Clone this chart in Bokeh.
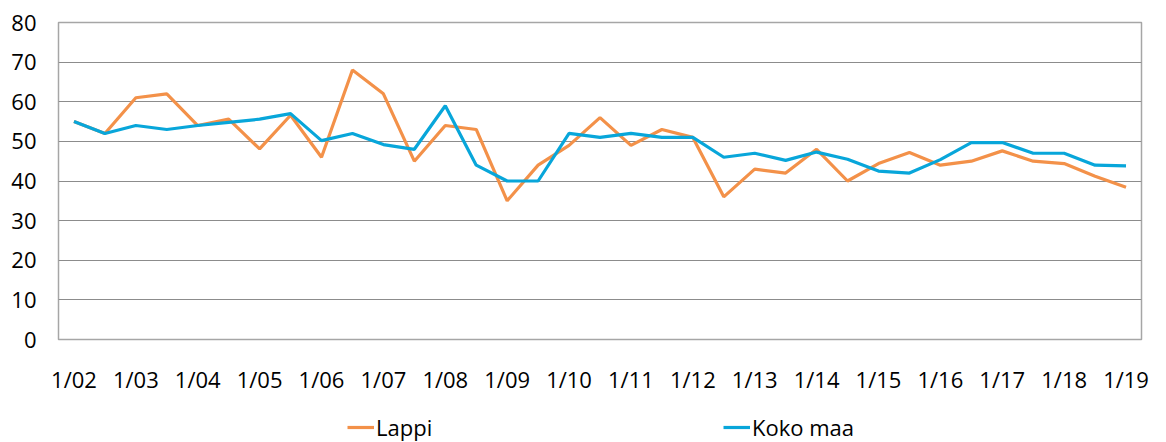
from bokeh.plotting import figure
from bokeh.layouts import column
from bokeh.models import Range1d, FixedTicker, Legend, LegendItem, ColumnDataSource
from bokeh.embed import file_html
from bokeh.resources import INLINE

periods = ["1/02", "7/02", "1/03", "7/03", "1/04", "7/04", "1/05", "7/05", "1/06", "7/06",
           "1/07", "7/07", "1/08", "7/08", "1/09", "7/09", "1/10", "7/10", "1/11", "7/11",
           "1/12", "7/12", "1/13", "7/13", "1/14", "7/14", "1/15", "7/15", "1/16", "7/16",
           "1/17", "7/17", "1/18", "7/18", "1/19"]
lappi = [55, 52, 61, 62, 54, 55.6, 48.1, 56.6, 46, 68,
         62, 45, 54, 53, 35, 44, 49, 56, 49, 53,
         51, 36, 43, 42, 48, 40, 44.4, 47.2, 44, 45,
         47.6, 45, 44.4, 41.2, 38.4]
koko_maa = [55, 52, 54, 53, 54, 54.8, 55.6, 57, 50.2, 52,
            49.2, 48, 59, 44, 40, 40, 52, 51, 52, 51,
            51, 46, 47, 45.2, 47.3, 45.5, 42.5, 42, 45.4, 49.7,
            49.7, 47, 47, 44, 43.8]
y_ticks = [0, 10, 20, 30, 40, 50, 60, 70, 80]
series_names = ["Lappi", "Koko maa"]
series_colors = ["#F39149", "#08A6DA"]

x = list(range(len(periods)))
src = ColumnDataSource(dict(x=x, lappi=lappi, koko=koko_maa))

p = figure(width=1166, height=405, output_backend="svg", toolbar_location=None,
           x_range=Range1d(-0.5, len(periods) - 0.5), y_range=Range1d(0, 80),
           min_border_left=58, min_border_right=25, min_border_top=22, min_border_bottom=66)

r1 = p.line("x", "lappi", source=src, line_color=series_colors[0], line_width=3.2)
r2 = p.line("x", "koko", source=src, line_color=series_colors[1], line_width=3.2)

p.outline_line_color = "#A6A6A6"
p.outline_line_width = 1.5
p.xgrid.grid_line_color = None
p.ygrid.grid_line_color = "#8C8C8C"
p.ygrid.grid_line_width = 1.2
p.yaxis.ticker = FixedTicker(ticks=y_ticks)
p.xaxis.ticker = FixedTicker(ticks=[i for i in x if i % 2 == 0])
p.xaxis.major_label_overrides = {i: periods[i] for i in x if i % 2 == 0}

for ax in (p.xaxis, p.yaxis):
    ax.axis_line_color = None
    ax.major_tick_line_color = None
    ax.minor_tick_line_color = None
    ax.major_label_text_font = "Open Sans"
    ax.major_label_text_font_size = "22px"
    ax.major_label_text_color = "#000000"
p.yaxis.major_label_standoff = 16
p.xaxis.major_label_standoff = 18

# legend strip below the chart (its series lie outside its own view, only the legend shows)
lg = figure(width=1166, height=37, output_backend="svg", toolbar_location=None,
            x_range=Range1d(0, 1), y_range=Range1d(-2, -1),
            x_axis_location=None, y_axis_location=None, min_border=0)
lg.outline_line_color = None
lg.grid.grid_line_color = None
d1 = lg.line("x", "lappi", source=src, line_color=series_colors[0], line_width=3.2)
d2 = lg.line("x", "koko", source=src, line_color=series_colors[1], line_width=3.2)
legend = Legend(items=[LegendItem(label=series_names[0], renderers=[d1]),
                       LegendItem(label=series_names[1], renderers=[d2])],
                orientation="horizontal", location=(289, 0),
                label_text_font="Open Sans", label_text_font_size="22px",
                label_text_color="#000000", label_width=347,
                glyph_width=27, label_standoff=2, spacing=0,
                padding=0, margin=0, border_line_color=None, background_fill_alpha=0)
lg.add_layout(legend, "center")

layout = column(p, lg, spacing=0)
open("out.html", "w").write(file_html(layout, INLINE))
